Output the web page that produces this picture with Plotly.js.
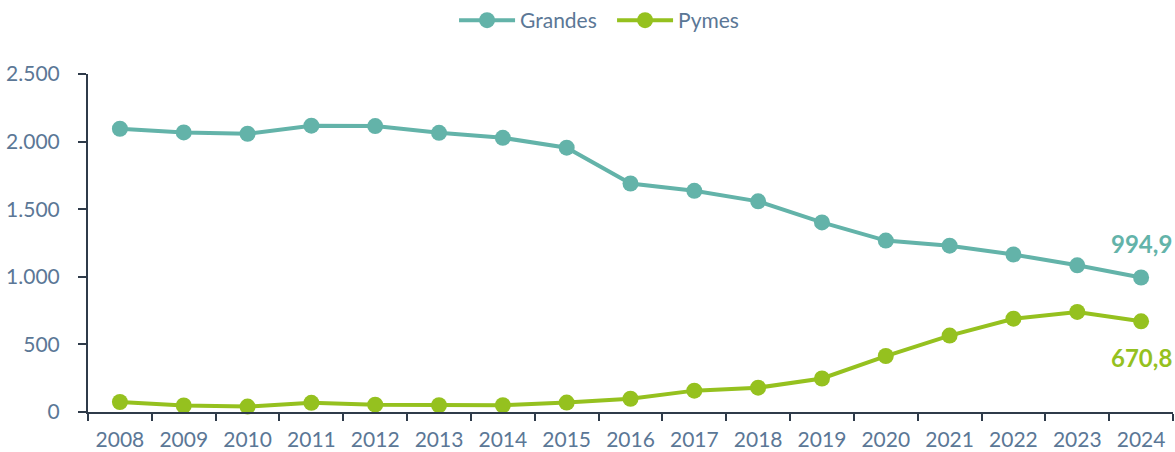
<!DOCTYPE html>
<html>
<head>
<meta charset="utf-8">
<script src="https://cdn.plot.ly/plotly-3.0.1.min.js"></script>
<style>html,body{margin:0;padding:0;background:#fff;}#chart{width:1175px;height:452px;}</style>
</head>
<body>
<div id="chart"></div>
<script>
const years = ["2008","2009","2010","2011","2012","2013","2014","2015","2016","2017","2018","2019","2020","2021","2022","2023","2024"];
const grandes = [2095, 2068, 2058, 2118, 2115, 2065, 2028, 1955, 1690, 1636, 1558, 1402, 1268, 1230, 1165, 1085, 994.9];
const pymes = [74, 48, 40, 68, 54, 50, 50, 70, 98, 158, 180, 248, 414, 565, 690, 740, 670.8];
const seriesNames = ["Grandes", "Pymes"];
const colors = ["#63b3a9", "#95c11f"];
const lastLabels = ["994,9", "670,8"];

const traces = [grandes, pymes].map((vals, i) => ({
  x: years, y: vals, name: seriesNames[i], type: "scatter", mode: "lines+markers",
  line: {color: colors[i], width: 4},
  marker: {color: colors[i], size: 16},
  cliponaxis: false
}));

const last = years.length - 1;
const layout = {
  width: 1175, height: 452,
  margin: {l: 88, r: 2, t: 74, b: 40},
  paper_bgcolor: "#fff", plot_bgcolor: "#fff",
  separators: ",.",
  font: {family: "Lato, Open Sans, sans-serif", size: 20, color: "#5b7796"},
  showlegend: true,
  legend: {orientation: "h", x: 0.483, xanchor: "center", y: 1, yref: "container", yanchor: "top",
    itemwidth: 56, entrywidth: 87, entrywidthmode: "pixels",
    font: {size: 21, color: "#5b7796"}},
  xaxis: {
    type: "category", range: [-0.5, 16.5], showgrid: false, zeroline: false,
    showline: true, linecolor: "#2f3b4a", linewidth: 2,
    ticks: "outside", tickson: "boundaries", ticklen: 7, tickwidth: 2, tickcolor: "#2f3b4a",
    ticklabelstandoff: 8,
    tickfont: {size: 21, color: "#5b7796"}
  },
  yaxis: {
    range: [0, 2500], dtick: 500, tickformat: ",", showgrid: false, zeroline: false,
    showline: true, linecolor: "#2f3b4a", linewidth: 2,
    ticks: "outside", ticklen: 8, tickwidth: 2, tickcolor: "#2f3b4a",
    ticklabelstandoff: 14,
    tickfont: {size: 21, color: "#5b7796"}
  },
  annotations: [
    {xref: "x", yref: "y", x: last, y: grandes[last], text: "<b>" + lastLabels[0] + "</b>", showarrow: false, xanchor: "center", yanchor: "middle", yshift: 34, font: {family: "Lato, Open Sans, sans-serif", size: 24, color: colors[0]}},
    {xref: "x", yref: "y", x: last, y: pymes[last], text: "<b>" + lastLabels[1] + "</b>", showarrow: false, xanchor: "center", yanchor: "middle", yshift: -36, font: {family: "Lato, Open Sans, sans-serif", size: 24, color: colors[1]}}
  ]
};

Plotly.newPlot("chart", traces, layout, {displayModeBar: false, staticPlot: true});
</script>
</body>
</html>
